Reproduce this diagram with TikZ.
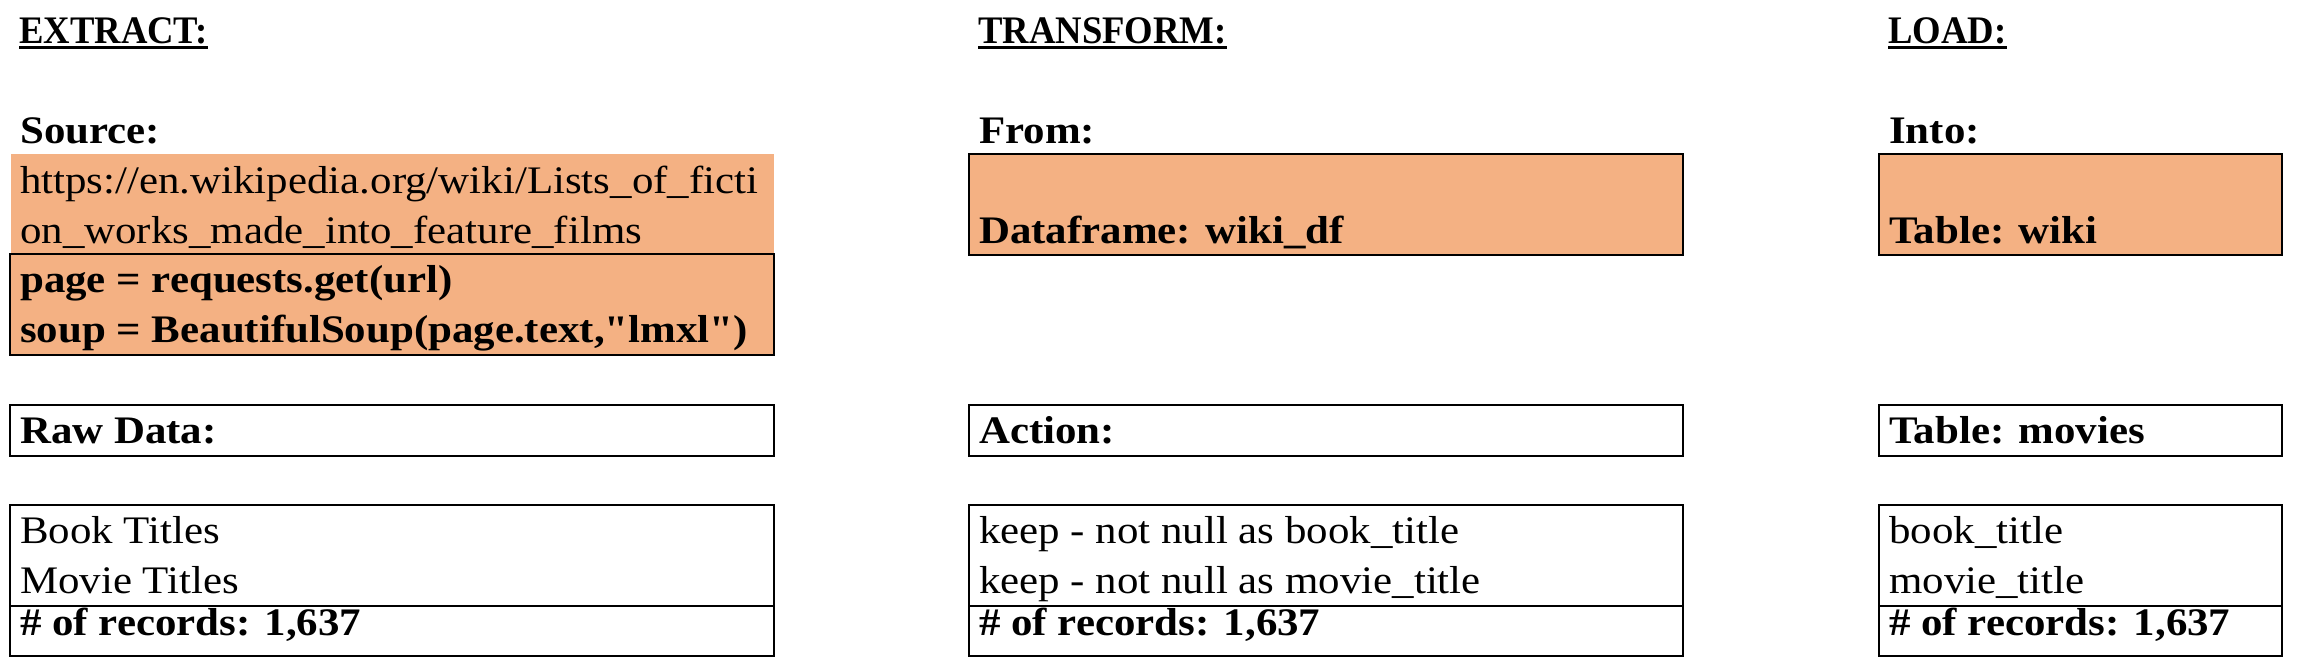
\documentclass[tikz,border=0pt]{standalone}
\usepackage{fontspec}
\setmainfont{Liberation Serif}[FakeStretch=1.1,Ligatures=TeXOff]
\newfontfamily\headfont{Liberation Serif}[FakeStretch=0.94]
\usetikzlibrary{fit}
\definecolor{cellorange}{HTML}{F4B183}
\begin{document}
\begin{tikzpicture}[x=1pt,y=-1pt]
\tikzset{
base/.style={inner sep=0,font=\fontsize{39}{50}\selectfont},
txt/.style={base,anchor=base west},
bold/.style={txt,font=\fontsize{39}{50}\selectfont\bfseries},
head/.style={txt,font=\fontsize{39}{50}\headfont\bfseries},
cell/.style={draw,line width=2.7pt,inner sep=0},
filled/.style={cell,fill=cellorange},
uline/.style={line width=3pt}}
\useasboundingbox (0,0) rectangle (2302,670);
% boxes
\node[fill=cellorange,inner sep=0,fit={(11,154) (774,254)}] (url) {};
\node[filled,fit={(10,254) (774,355)}] (code) {};
\node[filled,fit={(969,154) (1683,255)}] (from) {};
\node[filled,fit={(1879,154) (2282,255)}] (into) {};
\node[cell,fit={(10,405) (774,456)}] (raw) {};
\node[cell,fit={(969,405) (1683,456)}] (action) {};
\node[cell,fit={(1879,405) (2282,456)}] (movies) {};
\node[cell,fit={(10,505) (774,606)}] (fields1) {};
\node[cell,fit={(969,505) (1683,606)}] (fields2) {};
\node[cell,fit={(1879,505) (2282,606)}] (fields3) {};
\node[cell,fit={(10,606) (774,656)}] (count1) {};
\node[cell,fit={(969,606) (1683,656)}] (count2) {};
\node[cell,fit={(1879,606) (2282,656)}] (count3) {};
% headers
\node[head] (extract) at (19,43) {EXTRACT:};
\node[head] (transform) at (978,43) {TRANSFORM:};
\node[head] (load) at (1888,43) {LOAD:};
\foreach \h in {extract,transform,load}
  \draw[uline] ([yshift=-4.5pt]\h.base west) -- ([yshift=-4.5pt]\h.base east);
% extract
\node[bold] (source) at (20,143) {Source:};
\node[txt] (url1) at (20,193) {https://en.wikipedia.org/wiki/Lists\_of\_ficti};
\node[txt] (url2) at (20,243) {on\_works\_made\_into\_feature\_films};
\node[bold] (code1) at (20,292) {page = requests.get(url)};
\node[bold] (code2) at (20,342) {soup = BeautifulSoup(page.text,"lmxl")};
\node[bold] (rawlbl) at (20,443) {Raw Data:};
\node[txt] (books) at (20,543) {Book Titles};
\node[txt] (films) at (20,593) {Movie Titles};
% transform
\node[bold] (fromlbl) at (979,143) {From:};
\node[bold] (dframe) at (979,243) {Dataframe: wiki\_df};
\node[bold] (actlbl) at (979,443) {Action:};
\node[txt] (keep1) at (979,543) {keep - not null as book\_title};
\node[txt] (keep2) at (979,593) {keep - not null as movie\_title};
% load
\node[bold] (intolbl) at (1889,143) {Into:};
\node[bold] (wiki) at (1889,243) {Table: wiki};
\node[bold] (movlbl) at (1889,443) {Table: movies};
\node[txt] (col1) at (1889,543) {book\_title};
\node[txt] (col2) at (1889,593) {movie\_title};
% counts
\foreach \c/\x in {1/20,2/979,3/1889}
  \node[bold] (rec\c) at (\x,635) {\# of records: 1,637};
\end{tikzpicture}
\end{document}
